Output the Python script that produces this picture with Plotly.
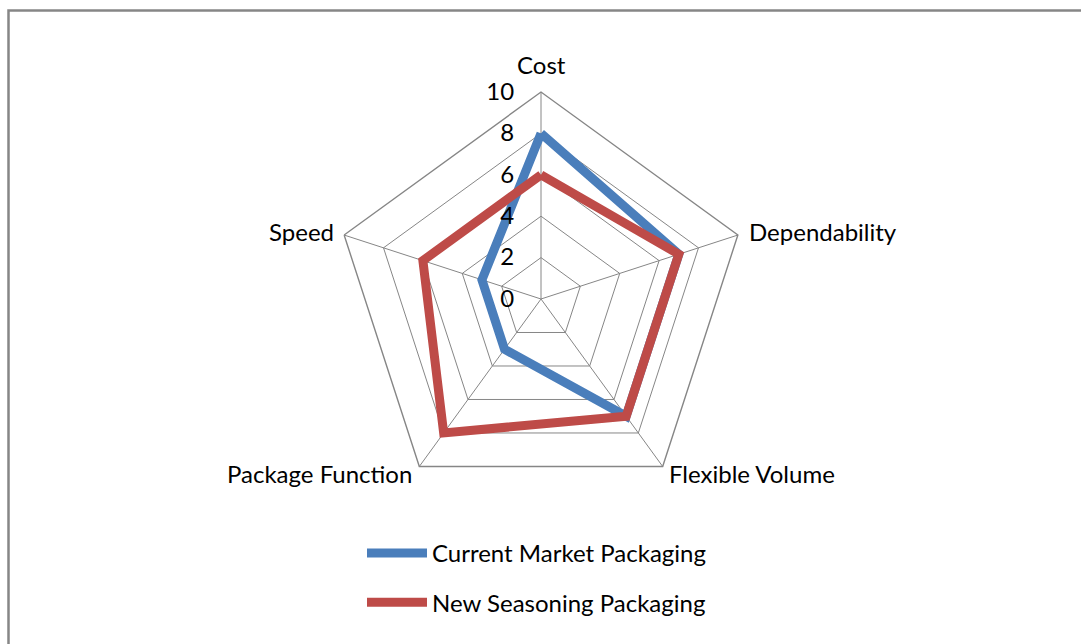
import math
import plotly.graph_objects as go

categories = ["Cost", "Dependability", "Flexible Volume", "Package Function", "Speed"]
current_market = [8, 7, 7, 3, 3]
new_seasoning = [6, 7, 7, 8, 6]
radial_ticks = [0, 2, 4, 6, 8, 10]

W, H = 1081, 644
cx, cy, R = 541, 299, 207

def closed(vals):
    return list(vals) + [vals[0]]

fig = go.Figure()
fig.add_trace(go.Scatterpolar(
    r=closed(current_market), theta=closed(categories), mode="lines",
    name="Current Market Packaging", legendgroup="a",
    line=dict(color="#4A7EBB", width=9),
))
fig.add_trace(go.Scatterpolar(
    r=closed(new_seasoning), theta=closed(categories), mode="lines",
    name="New Seasoning Packaging", legendgroup="b",
    line=dict(color="#BE4B48", width=9),
))

# category labels placed just outside each vertex of the outer pentagon
annotations = []
n = len(categories)
for i, cat in enumerate(categories):
    th = math.radians(90 - 360 * i / n)
    c, s = math.cos(th), math.sin(th)
    vx, vy = cx + R * c, cy - R * s
    if s > 0.9:
        xa, xs, ys = "center", 0, 28
    elif s > 0:
        xa = "left" if c > 0 else "right"
        xs, ys = (9 if c > 0 else -8), 4
    else:
        xa = "left" if c > 0 else "right"
        xs, ys = (4 if c > 0 else -5), -7
    annotations.append(dict(
        text=cat, x=vx / W, y=(H - vy) / H, xref="paper", yref="paper",
        xanchor=xa, yanchor="middle", xshift=xs, yshift=ys, showarrow=False,
        font=dict(size=24, color="black"),
    ))

grid = "#868686"
fig.update_layout(
    width=W, height=H,
    margin=dict(l=0, r=0, t=0, b=0),
    paper_bgcolor="white",
    font=dict(family="Lato, Calibri, sans-serif", size=24, color="black"),
    polar=dict(
        bgcolor="white",
        gridshape="linear",
        domain=dict(x=[(cx - R) / W, (cx + R) / W], y=[(H - cy - R) / H, (H - cy + R) / H]),
        angularaxis=dict(
            rotation=90, direction="clockwise",
            categoryorder="array", categoryarray=categories,
            showline=True, linecolor=grid, linewidth=1.4,
            gridcolor=grid, gridwidth=1.4,
            ticks="", showticklabels=False,
        ),
        radialaxis=dict(
            range=[0, 10], tickvals=radial_ticks, angle=90, tickangle=90,
            showline=False, gridcolor=grid, gridwidth=1.4,
            ticks="outside", ticklen=18, tickcolor="rgba(0,0,0,0)",
            side="counterclockwise",
            tickfont=dict(size=24, color="black"),
        ),
    ),
    annotations=annotations,
    showlegend=True,
    legend=dict(
        x=(432 - 70) / W, xanchor="left", y=(H - 531) / H, yanchor="top",
        tracegroupgap=15, itemwidth=60, bgcolor="rgba(0,0,0,0)",
        font=dict(size=24, color="black"),
    ),
    shapes=[dict(type="rect", xref="paper", yref="paper",
                 x0=8.5 / W, x1=1.05, y0=-0.05, y1=(H - 10.5) / H,
                 line=dict(color="#868686", width=2.5), fillcolor="rgba(0,0,0,0)")],
)

fig.write_html("out.html")
